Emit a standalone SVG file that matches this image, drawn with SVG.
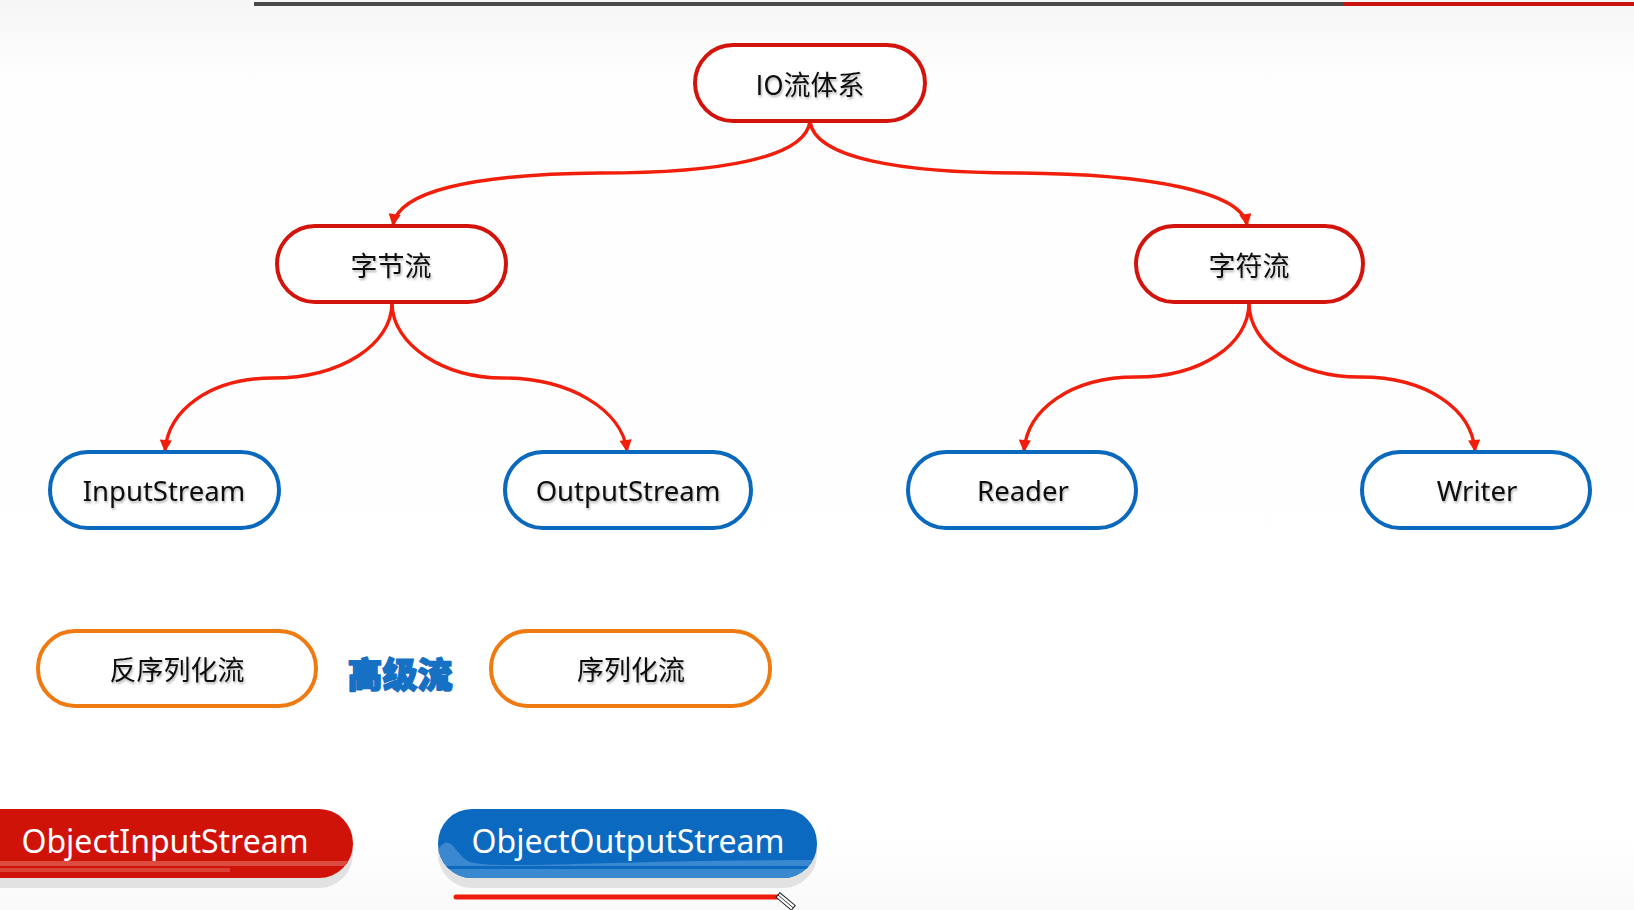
<svg xmlns="http://www.w3.org/2000/svg" width="1634" height="910" viewBox="0 0 1634 910">
  <defs>
    <style>
      .txt { font-family: "Noto Sans", "Open Sans", "Noto Sans CJK SC", sans-serif; font-size: 27.5px; fill: #111; text-anchor: middle; dominant-baseline: central; }
      .cjk { font-family: "Noto Sans CJK SC", "Noto Sans", sans-serif; font-size: 27px; fill: #111; text-anchor: middle; dominant-baseline: central; }
      .red { fill: #fff; stroke: #d2140c; stroke-width: 4; }
      .blue { fill: #fff; stroke: #0a68bd; stroke-width: 4; }
      .orange { fill: #fff; stroke: #ef7a12; stroke-width: 4; }
      .conn { fill: none; stroke: #f01e0a; stroke-width: 3.4; marker-end: url(#arr); }
      .big { font-family: "Noto Sans", "Open Sans", sans-serif; font-size: 32px; fill: #fff; text-anchor: middle; dominant-baseline: central; }
    </style>
    <marker id="arr" viewBox="0 0 10 10" refX="9" refY="5" markerWidth="4" markerHeight="3.6" orient="auto" markerUnits="strokeWidth">
      <path d="M0,0 L10,5 L0,10 Z" fill="#f01e0a"/>
    </marker>
    <filter id="ts" x="-10%" y="-30%" width="120%" height="160%">
      <feDropShadow dx="1" dy="2" stdDeviation="1.2" flood-color="#000" flood-opacity="0.3"/>
    </filter>
    <linearGradient id="bg" x1="0" y1="0" x2="0" y2="1">
      <stop offset="0" stop-color="#f6f6f6"/>
      <stop offset="0.09" stop-color="#fefefe"/>
      <stop offset="0.92" stop-color="#ffffff"/>
      <stop offset="1" stop-color="#f9f9f9"/>
    </linearGradient>
    <clipPath id="clipIn"><rect x="-40" y="809" width="393" height="69" rx="34"/></clipPath>
    <clipPath id="clipOut"><rect x="438" y="809" width="379" height="69" rx="34"/></clipPath>
  </defs>

  <rect x="0" y="0" width="1634" height="910" fill="url(#bg)"/>
  <rect x="254" y="2" width="1090" height="4" fill="#4a4a4a"/>
  <rect x="1344" y="2" width="290" height="4" fill="#c8140e"/>

  <g id="connectors">
    <path class="conn" d="M810,121 C806,158 720,173 600,173 C470,174 398,192 393,225"/>
    <path class="conn" d="M810,121 C814,158 900,173 1020,173 C1150,174 1242,192 1247,225"/>
    <path class="conn" d="M392,303 C392,345 340,378 273,378 C210,378 168,410 165,451"/>
    <path class="conn" d="M392,303 C392,345 444,378 503,378 C570,378 622,410 627,451"/>
    <path class="conn" d="M1249,303 C1249,345 1200,377 1136,377 C1070,377 1027,410 1024,451"/>
    <path class="conn" d="M1249,303 C1249,345 1298,377 1360,377 C1428,377 1472,410 1475,451"/>
  </g>

  <g id="node-io">
    <rect class="red" x="695" y="45" width="230" height="76" rx="38"/>
    <text class="cjk" x="810" y="83" filter="url(#ts)">IO流体系</text>
  </g>
  <g id="node-byte">
    <rect class="red" x="277" y="226" width="229" height="76" rx="38"/>
    <text class="cjk" x="391" y="264" filter="url(#ts)">字节流</text>
  </g>
  <g id="node-char">
    <rect class="red" x="1136" y="226" width="227" height="76" rx="38"/>
    <text class="cjk" x="1249" y="264" filter="url(#ts)">字符流</text>
  </g>
  <g id="node-inputstream">
    <rect class="blue" x="50" y="452" width="229" height="76" rx="38"/>
    <text class="txt" x="164" y="490" filter="url(#ts)">InputStream</text>
  </g>
  <g id="node-outputstream">
    <rect class="blue" x="505" y="452" width="246" height="76" rx="38"/>
    <text class="txt" x="628" y="490" filter="url(#ts)">OutputStream</text>
  </g>
  <g id="node-reader">
    <rect class="blue" x="908" y="452" width="228" height="76" rx="38"/>
    <text class="txt" x="1023" y="490" filter="url(#ts)">Reader</text>
  </g>
  <g id="node-writer">
    <rect class="blue" x="1362" y="452" width="228" height="76" rx="38"/>
    <text class="txt" x="1477" y="490" filter="url(#ts)">Writer</text>
  </g>

  <g id="node-deserialize">
    <rect class="orange" x="38" y="631" width="278" height="75" rx="37"/>
    <text class="cjk" x="177" y="668" filter="url(#ts)">反序列化流</text>
  </g>
  <g id="label-advanced">
    <text x="400" y="672" font-family="'Noto Sans CJK SC', sans-serif" font-size="35" font-weight="900" fill="#1670c4" text-anchor="middle" dominant-baseline="central" stroke="#1670c4" stroke-width="1.6" stroke-linejoin="round">高级流</text>
  </g>
  <g id="node-serialize">
    <rect class="orange" x="491" y="631" width="279" height="75" rx="37"/>
    <text class="cjk" x="631" y="668" filter="url(#ts)">序列化流</text>
  </g>

  <g id="node-objectinputstream">
    <rect x="-40" y="819" width="393" height="69" rx="34" fill="#e2e2e2"/>
    <rect x="-40" y="809" width="393" height="69" rx="34" fill="#cf1309"/>
    <g clip-path="url(#clipIn)">
      <rect x="-40" y="861" width="400" height="5" fill="#dc4b3f"/>
      <rect x="-40" y="868" width="270" height="4" fill="#d94236"/>
    </g>
    <text class="big" x="165" y="840">ObjectInputStream</text>
  </g>
  <g id="node-objectoutputstream">
    <rect x="438" y="819" width="379" height="69" rx="34" fill="#e2e2e2"/>
    <rect x="438" y="809" width="379" height="69" rx="34" fill="#0b69c0"/>
    <g clip-path="url(#clipOut)">
      <path d="M438,850 C450,830 455,855 470,862 C500,870 600,860 820,860 L820,878 L438,878 Z" fill="#3a88cf"/>
      <rect x="438" y="866" width="380" height="3" fill="#0b69c0"/>
    </g>
    <text class="big" x="628" y="840">ObjectOutputStream</text>
  </g>

  <g id="underline">
    <line x1="456" y1="897" x2="778" y2="897" stroke="#ee1c0c" stroke-width="5" stroke-linecap="round"/>
    <g transform="translate(778,895) rotate(40)">
      <rect x="0" y="-3" width="20" height="6" fill="#fff" stroke="#222" stroke-width="1"/>
      <line x1="0" y1="0" x2="20" y2="0" stroke="#222" stroke-width="0.8"/>
    </g>
  </g>
</svg>
